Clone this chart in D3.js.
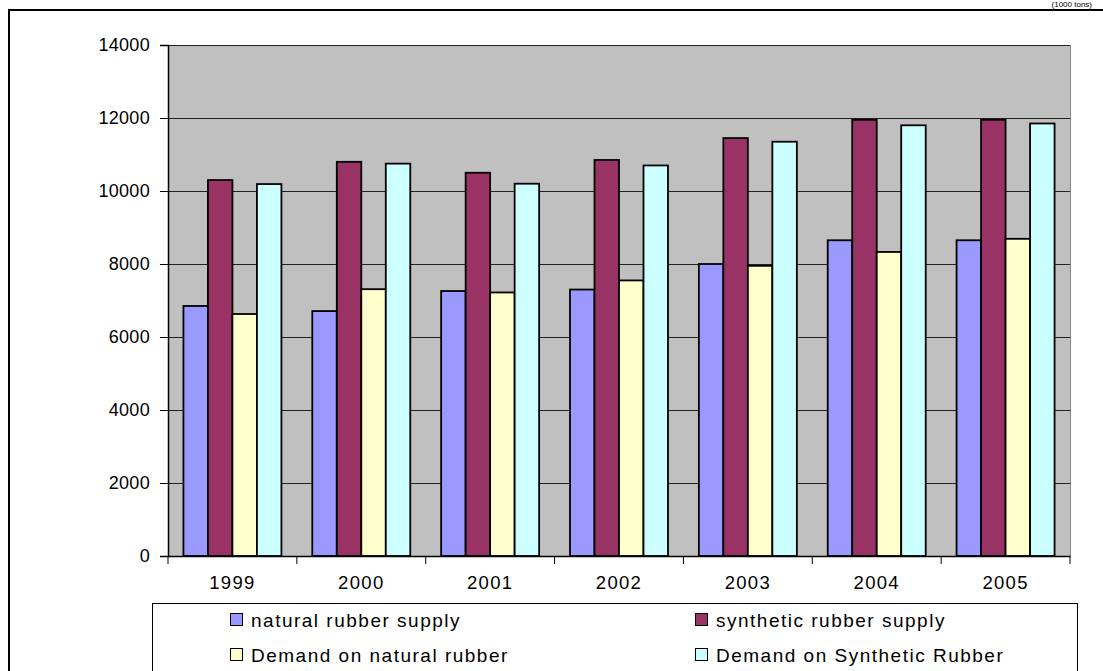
<!DOCTYPE html>
<html><head><meta charset="utf-8">
<script src="https://cdn.jsdelivr.net/npm/d3@7"></script>
<style>body{margin:0;background:#fff;overflow:hidden}svg{display:block}text{font-family:"Liberation Sans",Arial,sans-serif}</style>
</head><body><svg id="c" width="1103" height="671"></svg>
<script>
const years = ["1999","2000","2001","2002","2003","2004","2005"];
const naturalSupply = [6850, 6710, 7260, 7300, 8000, 8650, 8650];
const syntheticSupply = [10300, 10800, 10500, 10850, 11450, 11950, 11950];
const demandNatural = [6630, 7310, 7220, 7550, 7950, 8330, 8690];
const demandSynthetic = [10190, 10750, 10200, 10700, 11350, 11800, 11850];
const seriesNames = ["natural rubber supply","synthetic rubber supply","Demand on natural rubber","Demand on Synthetic Rubber"];
const seriesColors = ["#9999FF","#993366","#FFFFCC","#CCFFFF"];
const yTicks = [0,2000,4000,6000,8000,10000,12000,14000];

const series = [naturalSupply, syntheticSupply, demandNatural, demandSynthetic];
const svg = d3.select("#c");
const L=168, R=1070, T=45, B=556;

// outer border
svg.append("rect").attr("x",9).attr("y",10).attr("width",1110).attr("height",700)
  .attr("fill","none").attr("stroke","#000").attr("stroke-width",2);
// unit text at top right (mostly cut off in the reference)
svg.append("text").attr("x",1092).attr("y",7).attr("text-anchor","end")
  .attr("font-size",8).attr("fill","#000").text("(1000 tons)");

const x = d3.scaleBand().domain(years).range([L,R]);
const xi = d3.scaleBand().domain(d3.range(4)).range([0,x.bandwidth()]).paddingOuter(0.63).paddingInner(0);
const y = d3.scaleLinear().domain([0,14000]).range([B,T]);

svg.append("rect").attr("x",L).attr("y",T).attr("width",R-L).attr("height",B-T).attr("fill","#C0C0C0");
svg.append("g").selectAll("line").data(yTicks.filter(d=>d>0)).join("line")
  .attr("x1",L).attr("x2",R).attr("y1",d=>Math.round(y(d))+0.5).attr("y2",d=>Math.round(y(d))+0.5)
  .attr("stroke","#222").attr("stroke-width",1);
svg.append("line").attr("x1",R+0.5).attr("x2",R+0.5).attr("y1",T).attr("y2",B).attr("stroke","#888");

const g = svg.append("g");
series.forEach((s,si)=>{
  g.selectAll(".b"+si).data(s).join("rect")
    .attr("x",(d,i)=>x(years[i])+xi(si))
    .attr("width",xi.bandwidth())
    .attr("y",d=>y(d)).attr("height",d=>B-y(d))
    .attr("fill",seriesColors[si]).attr("stroke","#000").attr("stroke-width",1.8);
});

// axes
const ya = svg.append("g").attr("transform",`translate(${L},0)`)
  .call(d3.axisLeft(y).tickValues(yTicks).tickSize(8).tickPadding(10).tickFormat(d3.format("d")));
ya.select(".domain").attr("stroke","#000").attr("stroke-width",1.5);
ya.selectAll("text").attr("font-size",18).attr("fill","#000").attr("letter-spacing",0.3)
  .attr("font-family","Liberation Sans, Arial, sans-serif");
ya.selectAll("line").attr("stroke","#000");
const xa = svg.append("g").attr("transform",`translate(0,${B})`)
  .call(d3.axisBottom(x).tickSize(0).tickPadding(20));
xa.select(".domain").attr("stroke","#000").attr("stroke-width",1.5);
xa.selectAll("text").attr("font-size",18.5).attr("fill","#000").attr("letter-spacing",1.3)
  .attr("font-family","Liberation Sans, Arial, sans-serif");
svg.append("g").selectAll("line").data(years.concat(["end"])).join("line")
  .attr("x1",(d,i)=>L+i*x.step()).attr("x2",(d,i)=>L+i*x.step())
  .attr("y1",B).attr("y2",B+8).attr("stroke","#000");

// legend
svg.append("rect").attr("x",152.5).attr("y",603.5).attr("width",925).attr("height",100)
  .attr("fill","#fff").attr("stroke","#000");
const lx=[230,695], ly=[620,655];
seriesNames.forEach((n,i)=>{
  const cx=lx[i%2], cy=ly[Math.floor(i/2)];
  svg.append("rect").attr("x",cx+0.5).attr("y",cy-6.5).attr("width",12).attr("height",12)
    .attr("fill",seriesColors[i]).attr("stroke","#000").attr("stroke-width",1);
  svg.append("text").attr("x",cx+21).attr("y",cy+7).attr("font-size",19).attr("letter-spacing",1.5)
    .attr("fill","#000").text(n);
});
</script></body></html>
